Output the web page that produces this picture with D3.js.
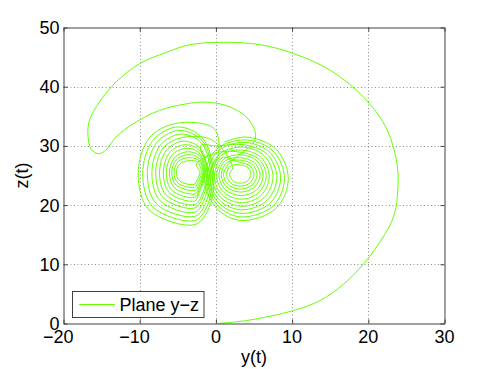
<!DOCTYPE html>
<html><head><meta charset="utf-8">
<script src="https://cdn.jsdelivr.net/npm/d3@7"></script>
<style>body{margin:0;background:#fff}text{font-family:"Liberation Sans",Arial,Helvetica,sans-serif}</style>
</head><body><svg id="c" width="491" height="369"></svg>
<script>
// ---- data ----
const xTicks = [-20, -10, 0, 10, 20, 30];
const yTicks = [0, 10, 20, 30, 40, 50];
const xLabel = "y(t)", yLabel = "z(t)", legendLabel = "Plane y\u2212z";

// transient outer spiral, [y, z]
const outerPath = [[0.1,0],[4.0,0.5],[10.2,2.2],[13.7,3.9],[16.8,6.7],[19.4,10.1],[22.1,14.9],[23.3,18.0],[23.8,21.3],[23.8,26.7],[22.4,32.9],[19.4,38.2],[15.1,42.7],[10.2,45.6],[5.8,47.1],[1.0,47.5],[-3.4,47.1],[-6.5,45.8],[-10.0,43.9],[-13.1,40.8],[-15.3,37.4],[-16.6,34.3],[-16.8,32.0],[-16.4,29.5],[-15.5,28.7],[-14.6,29.1],[-13.1,31.5],[-10.9,33.7],[-7.4,36.0],[-3.9,37.1],[-1.7,37.4],[1.4,36.8],[4.0,34.9],[5.1,32.6],[5.1,30.9],[3.8,29.2]];

// right-lobe loops (outer r1 ... inner r12)
const r1  = [[0.1,29.45],[-1.5,24.45],[0.1,19.45],[3.3,17.4],[7.9,19.45],[9.5,24.45],[7.9,29.45],[4.0,31.5]];
const r2  = [[0.28,29.12],[-1.2,24.5],[0.28,19.88],[3.3,18.0],[7.52,19.88],[9.0,24.5],[7.52,29.12],[3.9,31.0]];
const r3  = [[0.38,28.86],[-1.0,24.6],[0.38,20.34],[3.4,18.6],[7.12,20.34],[8.5,24.6],[7.12,28.86],[3.75,30.6]];
const r4  = [[0.48,28.6],[-0.8,24.7],[0.48,20.8],[3.4,19.2],[6.72,20.8],[8.0,24.7],[6.72,28.6],[3.6,30.2]];
const r5  = [[0.66,28.35],[-0.5,24.8],[0.66,21.25],[3.5,19.8],[6.34,21.25],[7.5,24.8],[6.34,28.35],[3.5,29.8]];
const r6  = [[0.84,28.01],[-0.2,24.85],[0.84,21.69],[3.4,20.4],[5.96,21.69],[7.0,24.85],[5.96,28.01],[3.4,29.3]];
const r7  = [[1.04,27.75],[0.1,24.95],[1.04,22.15],[3.35,21.0],[5.66,22.15],[6.6,24.95],[5.66,27.75],[3.35,28.9]];
const r8  = [[1.24,27.5],[0.4,25.05],[1.24,22.6],[3.3,21.6],[5.36,22.6],[6.2,25.05],[5.36,27.5],[3.3,28.5]];
const r9  = [[1.44,27.16],[0.7,25.1],[1.44,23.04],[3.25,22.2],[5.06,23.04],[5.8,25.1],[5.06,27.16],[3.25,28.0]];
const r10 = [[1.64,26.89],[1.0,25.15],[1.64,23.41],[3.2,22.7],[4.76,23.41],[5.4,25.15],[4.76,26.89],[3.2,27.6]];
const r11 = [[1.92,26.62],[1.4,25.2],[1.92,23.78],[3.2,23.2],[4.48,23.78],[5.0,25.2],[4.48,26.62],[3.2,27.2]];
const r12 = [[2.2,26.35],[1.8,25.25],[2.2,24.15],[3.2,23.7],[4.2,24.15],[4.6,25.25],[4.2,26.35],[3.2,26.8]];

// left-lobe loops (outer l1 ... inner l12)
const l1  = [[-1.74,31.32],[-0.3,25.25],[-0.9,19.6],[-2.77,16.7],[-8.76,19.18],[-10.2,25.25],[-8.76,31.32],[-5.25,33.8]];
const l2  = [[-1.82,30.91],[-0.5,25.3],[-1.1,20.0],[-2.77,17.4],[-8.28,19.69],[-9.6,25.3],[-8.28,30.91],[-5.05,33.2]];
const l3  = [[-1.9,30.5],[-0.7,25.35],[-1.3,20.5],[-2.77,18.1],[-7.8,20.2],[-9.0,25.35],[-7.8,30.5],[-4.85,32.6]];
const l4  = [[-1.99,30.09],[-0.9,25.4],[-1.5,21.0],[-2.77,18.8],[-7.31,20.71],[-8.4,25.4],[-7.31,30.09],[-4.65,32.0]];
const l5  = [[-2.09,29.67],[-1.1,25.45],[-1.7,21.4],[-2.8,19.5],[-6.91,21.23],[-7.9,25.45],[-6.91,29.67],[-4.5,31.4]];
const l6  = [[-2.1,29.25],[-1.2,25.45],[-1.8,21.8],[-2.75,20.1],[-6.5,21.65],[-7.4,25.45],[-6.5,29.25],[-4.3,30.8]];
const l7  = [[-2.2,28.82],[-1.4,25.45],[-2.2,22.08],[-2.77,20.7],[-6.1,22.08],[-6.9,25.45],[-6.1,28.82],[-4.15,30.2]];
const l8  = [[-2.22,28.4],[-1.5,25.45],[-2.22,22.5],[-2.75,21.3],[-5.78,22.5],[-6.5,25.45],[-5.78,28.4],[-4.0,29.6]];
const l9  = [[-2.25,27.97],[-1.6,25.45],[-2.25,22.93],[-2.72,21.9],[-5.45,22.93],[-6.1,25.45],[-5.45,27.97],[-3.85,29.0]];
const l10 = [[-2.29,27.63],[-1.7,25.5],[-2.29,23.37],[-2.72,22.5],[-5.21,23.37],[-5.8,25.5],[-5.21,27.63],[-3.75,28.5]];
const l11 = [[-2.42,27.28],[-1.9,25.5],[-2.42,23.72],[-2.8,23.0],[-4.98,23.72],[-5.5,25.5],[-4.98,27.28],[-3.7,28.0]];
const l12 = [[-2.55,26.92],[-2.1,25.5],[-2.55,24.08],[-2.87,23.5],[-4.75,24.08],[-5.2,25.5],[-4.75,26.92],[-3.65,27.5]];

// crossings between the lobes
const crossA = [[0.2,28.9]];
const crossB = [[-0.5,31.0]];
const crossC = [[0.0,30.0]];
const crossD = [[-0.3,33.0]];
const tail   = [[1.0,30.6]];

const trajectory = [].concat(
  outerPath, r10, r9, r8, r7, crossA,
  l12, l11, l10, l9, l8, l7, l6, l5, crossB,
  r12, r11, r6, r5, r4, crossC,
  l4, l3, l2, l1, crossD,
  r3, r2, r1, tail
);

// ---- drawing ----
const svg = d3.select("#c");
const x = d3.scaleLinear().domain([-20, 30]).range([63.5, 444.5]);
const y = d3.scaleLinear().domain([0, 50]).range([323.5, 27.5]);
const green = "#66ff00";
const axisColor = "#404040";
const fs = 18;

// grid
const grid = svg.append("g").attr("stroke", "#8c8c8c").attr("stroke-width", 1).attr("stroke-dasharray", "1,2.5");
grid.selectAll(".gx").data(xTicks.slice(1, -1)).join("line")
  .attr("x1", d => Math.round(x(d)) + 0.5).attr("x2", d => Math.round(x(d)) + 0.5)
  .attr("y1", y(50)).attr("y2", y(0));
grid.selectAll(".gy").data(yTicks.slice(1, -1)).join("line")
  .attr("y1", d => Math.round(y(d)) + 0.5).attr("y2", d => Math.round(y(d)) + 0.5)
  .attr("x1", x(-20)).attr("x2", x(30));

// trajectory
const line = d3.line().x(d => x(d[0])).y(d => y(d[1])).curve(d3.curveCatmullRom.alpha(0.5));
svg.append("path").datum(trajectory).attr("d", line)
  .attr("fill", "none").attr("stroke", green).attr("stroke-width", 1);

// axes (frame + inward ticks)
function styleAxis(g) {
  g.selectAll("path,line").attr("stroke", axisColor).attr("stroke-width", 1);
  g.selectAll("text").remove();
}
svg.append("g").attr("transform", `translate(0,${y(0)})`)
  .call(d3.axisBottom(x).tickValues(xTicks).tickSizeInner(-4).tickSizeOuter(0).tickFormat("")).call(styleAxis);
svg.append("g").attr("transform", `translate(0,${y(50)})`)
  .call(d3.axisTop(x).tickValues(xTicks).tickSizeInner(-4).tickSizeOuter(0).tickFormat("")).call(styleAxis);
svg.append("g").attr("transform", `translate(${x(-20)},0)`)
  .call(d3.axisLeft(y).tickValues(yTicks).tickSizeInner(-4).tickSizeOuter(0).tickFormat("")).call(styleAxis);
svg.append("g").attr("transform", `translate(${x(30)},0)`)
  .call(d3.axisRight(y).tickValues(yTicks).tickSizeInner(-4).tickSizeOuter(0).tickFormat("")).call(styleAxis);

const fmt = d => (d < 0 ? "\u2212" + Math.abs(d) : String(d));
const minusHalf = 0.584 * fs / 2;
svg.append("g").selectAll("text").data(xTicks).join("text")
  .attr("x", d => x(d) - (d < 0 ? minusHalf : 0)).attr("y", 343)
  .attr("text-anchor", "middle").attr("font-size", fs).attr("fill", "#000").text(fmt);
svg.append("g").selectAll("text").data(yTicks).join("text")
  .attr("x", 59.5).attr("y", d => y(d)).attr("dy", "0.36em")
  .attr("text-anchor", "end").attr("font-size", fs).attr("fill", "#000").text(fmt);

svg.append("text").attr("x", (x(-20) + x(30)) / 2).attr("y", 362.5)
  .attr("text-anchor", "middle").attr("font-size", fs).text(xLabel);
svg.append("text").attr("transform", `translate(28,${(y(0) + y(50)) / 2}) rotate(-90)`)
  .attr("text-anchor", "middle").attr("font-size", fs).text(yLabel);

// legend
const lg = svg.append("g");
lg.append("rect").attr("x", 72.5).attr("y", 291.5).attr("width", 131.5).attr("height", 26)
  .attr("fill", "#fff").attr("stroke", axisColor).attr("stroke-width", 1);
lg.append("line").attr("x1", 79).attr("x2", 115).attr("y1", 304.5).attr("y2", 304.5)
  .attr("stroke", green).attr("stroke-width", 1);
lg.append("text").attr("x", 119.5).attr("y", 310.5).attr("font-size", fs).text(legendLabel);
</script></body></html>
